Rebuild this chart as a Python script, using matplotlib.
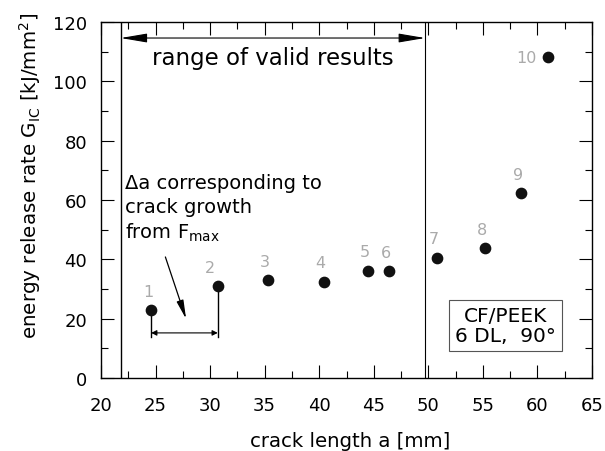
import numpy as np
import matplotlib
matplotlib.use('Agg')
import matplotlib.pyplot as plt
from matplotlib.ticker import MultipleLocator

plt.rcParams['font.family'] = ['DejaVu Sans']
plt.rcParams['mathtext.fontset'] = 'dejavusans'

# data
crack_len = [24.6, 30.7, 35.3, 40.4, 44.5, 46.4, 50.8, 55.2, 58.5, 61.0]
g_ic = [22.9, 31.1, 33.1, 32.5, 36.2, 36.0, 40.6, 43.8, 62.3, 108.1]
point_labels = ['1', '2', '3', '4', '5', '6', '7', '8', '9', '10']

valid_lo, valid_hi = 21.8, 49.7

fig = plt.figure(figsize=(6.05, 4.52), dpi=100)
ax = fig.add_axes([101/605, 1 - 379/452, 491/605, 356/452])

ax.scatter(crack_len, g_ic, s=55, color='#111111', zorder=3)

# labels above the points
for x, y, t in zip(crack_len, g_ic, point_labels):
    if t == '10':
        ax.text(x - 1.1, y, t, ha='right', va='center', fontsize=11.5, color='#aaaaaa')
    else:
        dx = -0.7 if t == '2' else -0.3
        ax.text(x + dx, y + 6.3, t, ha='center', va='center', fontsize=11.5, color='#aaaaaa')

# valid range lines and arrow
ax.axvline(valid_lo, color='black', lw=1)
ax.axvline(valid_hi, color='black', lw=0.8)
ax.annotate('', xy=(valid_lo, 114.6), xytext=(valid_hi, 114.6),
            arrowprops=dict(arrowstyle='<|-|>,head_length=0.65,head_width=0.11', color='black', lw=0.8,
                            mutation_scale=25, shrinkA=0, shrinkB=0))
ax.text((valid_lo + valid_hi) / 2, 108, 'range of valid results',
        ha='center', va='center', fontsize=16.5)

# delta a bracket
ax.plot([crack_len[0], crack_len[0]], [g_ic[0], 13.8], color='black', lw=1)
ax.plot([crack_len[1], crack_len[1]], [g_ic[1], 13.8], color='black', lw=1)
ax.annotate('', xy=(crack_len[0], 15.2), xytext=(crack_len[1], 15.2),
            arrowprops=dict(arrowstyle='<|-|>', color='black', lw=0.8,
                            mutation_scale=8, shrinkA=0, shrinkB=0))
ax.annotate('', xy=(27.8, 19.9), xytext=(25.9, 40.8),
            arrowprops=dict(arrowstyle='-|>,head_length=0.8,head_width=0.15', color='black', lw=0.9,
                            mutation_scale=14, shrinkA=0, shrinkB=0))
ax.text(22.2, 57.3, 'Δa corresponding to\ncrack growth\nfrom F$_{\\mathrm{max}}$',
        ha='left', va='center', fontsize=14, linespacing=1.3)

# material box
ax.text(57.1, 17.7, 'CF/PEEK\n6 DL,  90°', ha='center', va='center', fontsize=14.5,
        linespacing=1.12,
        bbox=dict(boxstyle='square,pad=0.3', fc='white', ec='#555555', lw=0.8))

ax.set_xlim(20, 65)
ax.set_ylim(0, 120)
ax.xaxis.set_major_locator(MultipleLocator(5))
ax.xaxis.set_minor_locator(MultipleLocator(2.5))
ax.yaxis.set_major_locator(MultipleLocator(20))
ax.yaxis.set_minor_locator(MultipleLocator(10))
ax.tick_params(which='both', direction='in', top=True, right=True, labelsize=13)
ax.tick_params(axis='x', which='major', pad=13)
ax.tick_params(axis='y', which='major', pad=10)
ax.tick_params(which='major', length=9.4, width=0.8)
ax.tick_params(which='minor', length=5, width=0.8)
for sp in ax.spines.values():
    sp.set_linewidth(1)

ax.set_xlabel('crack length a [mm]', fontsize=14.2)
ax.set_ylabel('energy release rate G$_{\\mathrm{IC}}$ [kJ/mm$^2$]', fontsize=14.3)
ax.xaxis.set_label_coords(0.508, -0.148)
ax.yaxis.set_label_coords(-0.118, 0.57)

fig.savefig('out.png', dpi=100)
